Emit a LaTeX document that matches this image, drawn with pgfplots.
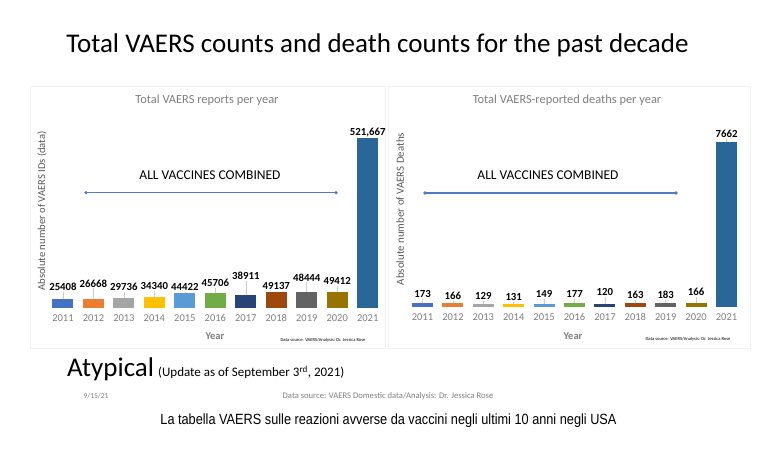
\documentclass[border=0pt]{standalone}
\usepackage{fontspec}
\setmainfont{Carlito}
\newfontfamily\capfont[FakeStretch=0.86]{Liberation Sans}
\usepackage{pgfplots}
\pgfplotsset{compat=1.18}

\definecolor{cA}{HTML}{4472C4}
\definecolor{cB}{HTML}{ED7D31}
\definecolor{cC}{HTML}{A5A5A5}
\definecolor{cD}{HTML}{FFC000}
\definecolor{cE}{HTML}{5B9BD5}
\definecolor{cF}{HTML}{70AD47}
\definecolor{cG}{HTML}{264478}
\definecolor{cH}{HTML}{9E480E}
\definecolor{cI}{HTML}{636363}
\definecolor{cJ}{HTML}{997300}
\definecolor{cK}{HTML}{2B6699}
\definecolor{txtgray}{HTML}{7F7F7F}
\definecolor{linblue}{HTML}{4F7BC8}

\pgfplotsset{
  vaers/.style={
    scale only axis, anchor=south west, clip=false,
    ybar, bar width=21pt, ymin=0,
    xmin=-0.55, xmax=10.45,
    xtick={0,...,10},
    xticklabels={2011,2012,2013,2014,2015,2016,2017,2018,2019,2020,2021},
    ytick=\empty,
    axis line style={draw=none},
    major tick length=0pt,
    xticklabel style={text=txtgray, font=\fontsize{10.5}{12}\selectfont, yshift=-3pt},
    nodes near coords, point meta=explicit symbolic,
    every node near coord/.append style={font=\bfseries\fontsize{10.8}{12}\selectfont, text=black, anchor=center},
    every axis plot/.append style={bar shift=0pt, draw=none,
      error bars/y dir=plus, error bars/y explicit, error bars/error mark=none,
      error bars/error bar style={gray!40, line width=0.5pt}},
  }
}

\begin{document}
\begin{tikzpicture}[x=1pt,y=1pt]
\fill[white] (0,0) rectangle (778,452);
% panels
\draw[gray!12, line width=0.8pt] (30,104) rectangle (385,366);
\draw[gray!12, line width=0.8pt] (388,104) rectangle (750,366);

\node[font=\fontsize{27}{30}\selectfont] at (377.5,407) {Total VAERS counts and death counts for the past decade};

% left chart
\begin{axis}[vaers, at={(46.2pt,144.3pt)}, width=335.2pt, height=182.2pt, ymax=560000]
\addplot[fill=cA, every node near coord/.append style={yshift=12.7pt}] coordinates {(0,25408) +- (0,23670) [25408]};
\addplot[fill=cB, every node near coord/.append style={yshift=15.7pt}] coordinates {(1,26668) +- (0,32890) [26668]};
\addplot[fill=cC, every node near coord/.append style={yshift=11.3pt}] coordinates {(2,29736) +- (0,19370) [29736]};
\addplot[fill=cD, every node near coord/.append style={yshift=10.5pt}] coordinates {(3,34340) +- (0,16900) [34340]};
\addplot[fill=cE, every node near coord/.append style={yshift=6.6pt}] coordinates {(4,44422) +- (0,4920) [44422]};
\addplot[fill=cF, every node near coord/.append style={yshift=9.8pt}] coordinates {(5,45706) +- (0,14760) [45706]};
\addplot[fill=cG, every node near coord/.append style={yshift=19.3pt}] coordinates {(6,38911) +- (0,43960) [38911]};
\addplot[fill=cH, every node near coord/.append style={yshift=5.7pt}] coordinates {(7,49137) +- (0,0) [49137]};
\addplot[fill=cI, every node near coord/.append style={yshift=14.6pt}] coordinates {(8,48444) +- (0,29510) [48444]};
\addplot[fill=cJ, every node near coord/.append style={yshift=10.9pt}] coordinates {(9,49412) +- (0,18140) [49412]};
\addplot[fill=cK, every node near coord/.append style={yshift=5pt}] coordinates {(10,521667) +- (0,0) [521{,}667]};
\end{axis}

% right chart
\begin{axis}[vaers, at={(405.8pt,145pt)}, width=334.4pt, height=180.9pt, ymax=8400]
\addplot[fill=cA, every node near coord/.append style={yshift=9.3pt}] coordinates {(0,173) +- (0,200) [173]};
\addplot[fill=cB, every node near coord/.append style={yshift=7.4pt}] coordinates {(1,166) +- (0,111) [166]};
\addplot[fill=cC, every node near coord/.append style={yshift=8.2pt}] coordinates {(2,129) +- (0,149) [129]};
\addplot[fill=cD, every node near coord/.append style={yshift=7.5pt}] coordinates {(3,131) +- (0,116) [131]};
\addplot[fill=cE, every node near coord/.append style={yshift=9.8pt}] coordinates {(4,149) +- (0,223) [149]};
\addplot[fill=cF, every node near coord/.append style={yshift=9.2pt}] coordinates {(5,177) +- (0,195) [177]};
\addplot[fill=cG, every node near coord/.append style={yshift=12.1pt}] coordinates {(6,120) +- (0,330) [120]};
\addplot[fill=cH, every node near coord/.append style={yshift=8.2pt}] coordinates {(7,163) +- (0,149) [163]};
\addplot[fill=cI, every node near coord/.append style={yshift=7.8pt}] coordinates {(8,183) +- (0,130) [183]};
\addplot[fill=cJ, every node near coord/.append style={yshift=11.1pt}] coordinates {(9,166) +- (0,283) [166]};
\addplot[fill=cK, every node near coord/.append style={yshift=8pt}] coordinates {(10,7662) +- (0,139) [7662]};
\end{axis}

% panel texts
\node[text=txtgray, font=\fontsize{12.4}{14}\selectfont] at (207,352) {Total VAERS reports per year};
\node[text=txtgray, font=\fontsize{12.4}{14}\selectfont] at (567,352) {Total VAERS-reported deaths per year};
\node[rotate=90, text=black!65, font=\fontsize{10.6}{12}\selectfont] at (42,241) {Absolute number of VAERS IDs (data)};
\node[rotate=90, text=black!65, font=\fontsize{10.9}{12}\selectfont] at (400,243) {Absolute number of VAERS Deaths};
\node[font=\fontsize{13.5}{15}\selectfont] at (210,277) {ALL VACCINES COMBINED};
\node[font=\fontsize{13.5}{15}\selectfont] at (548,277) {ALL VACCINES COMBINED};
\draw[linblue, line width=1.2pt] (86,259.3) -- (336,259.3);
\fill[linblue] (86,259.3) circle (1.8) (336,259.3) circle (1.8);
\draw[linblue, line width=1.2pt] (425,259) -- (676,259);
\fill[linblue] (425,259) circle (1.8) (676,259) circle (1.8);
\node[text=txtgray, font=\bfseries\fontsize{10.5}{12}\selectfont] at (215,116) {Year};
\node[text=txtgray, font=\bfseries\fontsize{10.5}{12}\selectfont] at (573,116) {Year};
\node[font=\fontsize{4.6}{5}\selectfont] at (323,112) {Data source: VAERS/Analysis: Dr. Jessica Rose};
\node[font=\fontsize{4.6}{5}\selectfont] at (688,113) {Data source: VAERS/Analysis: Dr. Jessica Rose};

% footer
\node[anchor=base west, inner sep=0pt, font=\fontsize{27}{30}\selectfont] at (67,75) {Atypical};
\node[anchor=base west, inner sep=0pt, font=\fontsize{13}{15}\selectfont] at (158,75) {(Update as of September 3\textsuperscript{rd}, 2021)};
\node[text=txtgray, font=\fontsize{7.5}{9}\selectfont] at (96,56) {9/15/21};
\node[text=txtgray, font=\fontsize{8.6}{10}\selectfont] at (388,56) {Data source: VAERS Domestic data/Analysis: Dr. Jessica Rose};
\node[font=\capfont\fontsize{14.8}{16}\selectfont] at (388.5,31) {La tabella VAERS sulle reazioni avverse da vaccini negli ultimi 10 anni negli USA};
\end{tikzpicture}
\end{document}
